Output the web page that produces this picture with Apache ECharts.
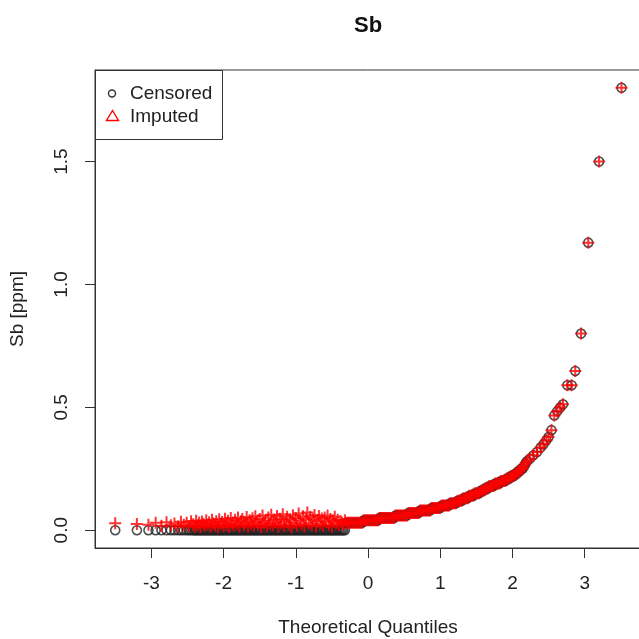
<!DOCTYPE html>
<html>
<head>
<meta charset="utf-8">
<script src="https://cdn.jsdelivr.net/npm/echarts@6/dist/echarts.min.js"></script>
<style>
  html, body { margin: 0; padding: 0; background: #fff; }
  #qq-chart { width: 639px; height: 639px; }
</style>
</head>
<body>
<div id="qq-chart"></div>
<script>
var FONT = '"Liberation Sans", Arial, sans-serif';

var xTicks = [-3, -2, -1, 0, 1, 2, 3];
var yTicks = [0, 0.5, 1, 1.5];

// censored part: theoretical quantile / imputed value (observations sit at the detection level)
var censoredLevel = 0;
var leftQuantiles = [
  -3.50, -3.20, -3.04, -2.94, -2.86, -2.79, -2.73, -2.68, -2.63, -2.59, -2.55, -2.51, -2.48, -2.45,
  -2.42, -2.40, -2.38, -2.36, -2.34, -2.32, -2.30, -2.28, -2.26, -2.24,
  -2.22, -2.20, -2.18, -2.16, -2.14, -2.12, -2.10, -2.08, -2.06, -2.04,
  -2.02, -2.00, -1.98, -1.96, -1.94, -1.92, -1.90, -1.88, -1.86, -1.84,
  -1.82, -1.80, -1.78, -1.76, -1.74, -1.72, -1.70, -1.68, -1.66, -1.64,
  -1.62, -1.60, -1.58, -1.56, -1.54, -1.52, -1.50, -1.48, -1.46, -1.44,
  -1.42, -1.40, -1.38, -1.36, -1.34, -1.32, -1.30, -1.28, -1.26, -1.24,
  -1.22, -1.20, -1.18, -1.16, -1.14, -1.12, -1.10, -1.08, -1.06, -1.04,
  -1.02, -1.00, -0.98, -0.96, -0.94, -0.92, -0.90, -0.88, -0.86, -0.84,
  -0.82, -0.80, -0.78, -0.76, -0.74, -0.72, -0.70, -0.68, -0.66, -0.64,
  -0.62, -0.60, -0.58, -0.56, -0.54, -0.52, -0.50, -0.48, -0.46, -0.44,
  -0.42, -0.40, -0.38, -0.36, -0.34, -0.32
];
var leftImputed = [
  0.028, 0.025, 0.022, 0.030, 0.018, 0.032, 0.020, 0.027, 0.015, 0.034, 0.022, 0.030, 0.017, 0.036,
  0.024, 0.014, 0.038, 0.020, 0.030, 0.012, 0.035, 0.026, 0.018, 0.040,
  0.022, 0.032, 0.015, 0.042, 0.027, 0.019, 0.036, 0.012, 0.044, 0.025,
  0.033, 0.016, 0.047, 0.021, 0.038, 0.013, 0.050, 0.028, 0.019, 0.042,
  0.024, 0.052, 0.015, 0.036, 0.045, 0.020, 0.030, 0.054, 0.014, 0.040,
  0.026, 0.049, 0.018, 0.057, 0.033, 0.022, 0.045, 0.012, 0.060, 0.029,
  0.038, 0.016, 0.052, 0.025, 0.063, 0.020, 0.042, 0.031, 0.058, 0.014,
  0.047, 0.027, 0.065, 0.018, 0.036, 0.055, 0.022, 0.044, 0.012, 0.061,
  0.030, 0.050, 0.019, 0.068, 0.039, 0.024, 0.057, 0.015, 0.046, 0.072,
  0.028, 0.054, 0.020, 0.043, 0.062, 0.016, 0.035, 0.058, 0.025, 0.048,
  0.018, 0.052, 0.032, 0.060, 0.022, 0.045, 0.014, 0.038, 0.055, 0.027,
  0.042, 0.020, 0.036, 0.030, 0.024, 0.040
];

// uncensored part: [theoretical quantile, Sb ppm]
var curvePoints = [
  [-0.30, 0.03], [-0.28, 0.03], [-0.26, 0.03], [-0.24, 0.03], [-0.22, 0.03], [-0.20, 0.03],
  [-0.18, 0.03], [-0.16, 0.03], [-0.14, 0.03], [-0.12, 0.03], [-0.10, 0.03], [-0.08, 0.03],
  [-0.06, 0.04], [-0.04, 0.04], [-0.02, 0.04], [0.00, 0.04], [0.02, 0.04], [0.04, 0.04],
  [0.06, 0.04], [0.08, 0.04], [0.10, 0.04], [0.12, 0.04], [0.14, 0.04],
  [0.16, 0.05], [0.18, 0.05], [0.20, 0.05], [0.22, 0.05], [0.24, 0.05], [0.26, 0.05],
  [0.28, 0.05], [0.30, 0.05], [0.32, 0.05], [0.34, 0.05], [0.36, 0.05],
  [0.38, 0.06], [0.40, 0.06], [0.42, 0.06], [0.44, 0.06], [0.46, 0.06], [0.48, 0.06],
  [0.50, 0.06], [0.52, 0.06], [0.54, 0.06],
  [0.56, 0.07], [0.58, 0.07], [0.60, 0.07], [0.62, 0.07], [0.64, 0.07], [0.66, 0.07],
  [0.68, 0.07], [0.70, 0.07],
  [0.72, 0.08], [0.74, 0.08], [0.76, 0.08], [0.78, 0.08], [0.80, 0.08], [0.82, 0.08],
  [0.84, 0.08], [0.86, 0.08],
  [0.88, 0.09], [0.90, 0.09], [0.92, 0.09], [0.94, 0.09], [0.96, 0.09], [0.98, 0.09], [1.00, 0.09],
  [1.02, 0.10], [1.04, 0.10], [1.06, 0.10], [1.08, 0.10], [1.10, 0.10], [1.12, 0.10],
  [1.14, 0.11], [1.16, 0.11], [1.18, 0.11], [1.20, 0.11], [1.22, 0.11],
  [1.24, 0.12], [1.26, 0.12], [1.28, 0.12], [1.30, 0.12],
  [1.32, 0.13], [1.34, 0.13], [1.36, 0.13], [1.38, 0.13],
  [1.40, 0.14], [1.42, 0.14], [1.44, 0.14], [1.46, 0.14],
  [1.48, 0.15], [1.50, 0.15], [1.52, 0.15], [1.54, 0.15],
  [1.56, 0.16], [1.58, 0.16], [1.60, 0.16],
  [1.62, 0.17], [1.64, 0.17], [1.66, 0.17],
  [1.68, 0.18], [1.70, 0.18], [1.72, 0.18], [1.74, 0.18],
  [1.76, 0.19], [1.78, 0.19], [1.80, 0.19], [1.82, 0.19],
  [1.84, 0.20], [1.86, 0.20], [1.88, 0.20], [1.90, 0.20],
  [1.92, 0.21], [1.94, 0.21], [1.96, 0.21],
  [1.98, 0.22], [2.00, 0.22], [2.02, 0.22],
  [2.04, 0.23], [2.06, 0.23],
  [2.08, 0.24], [2.10, 0.24],
  [2.12, 0.25], [2.14, 0.25],
  [2.16, 0.26], [2.18, 0.27], [2.20, 0.28]
];
var tailPoints = [
  [2.24, 0.291], [2.29, 0.305], [2.34, 0.318], [2.39, 0.336], [2.43, 0.35], [2.47, 0.366],
  [2.50, 0.379], [2.54, 0.407], [2.58, 0.467], [2.62, 0.484], [2.66, 0.499], [2.70, 0.512],
  [2.76, 0.59], [2.82, 0.59], [2.87, 0.648], [2.95, 0.80], [3.05, 1.17], [3.20, 1.50],
  [3.51, 1.80]
];

var censoredData = leftQuantiles.map(function (q) { return [q, censoredLevel]; })
  .concat(curvePoints, tailPoints);
var imputedData = leftQuantiles.map(function (q, i) { return [q, leftImputed[i]]; })
  .concat(curvePoints, tailPoints);

var chart = echarts.init(document.getElementById('qq-chart'), null, { renderer: 'canvas' });

var option = {
  animation: false,
  backgroundColor: '#fff',
  title: {
    text: 'Sb',
    left: 349,
    top: 10,
    textStyle: { fontFamily: FONT, fontSize: 22, fontWeight: 'bold', color: '#111' }
  },
  grid: {
    left: 95, top: 70, width: 546, height: 478,
    outerBoundsMode: 'none',
    containLabel: false,
    show: true, borderColor: '#333', borderWidth: 1, backgroundColor: 'transparent'
  },
  xAxis: {
    type: 'value',
    min: -3.78, max: 3.78,
    axisLine: { show: true, onZero: false, lineStyle: { color: '#333' } },
    axisTick: { show: true, length: 10, lineStyle: { color: '#333' }, customValues: xTicks },
    axisLabel: { customValues: xTicks, margin: 26, fontSize: 19, fontFamily: FONT, color: '#222' },
    splitLine: { show: false },
    name: 'Theoretical Quantiles',
    nameLocation: 'middle',
    nameGap: 70,
    nameTextStyle: { fontSize: 19, fontFamily: FONT, color: '#222' }
  },
  yAxis: {
    type: 'value',
    min: -0.0725, max: 1.8725,
    axisLine: { show: true, onZero: false, lineStyle: { color: '#333' } },
    axisTick: { show: true, length: 10, lineStyle: { color: '#333' }, customValues: yTicks },
    axisLabel: {
      customValues: yTicks, margin: 24, rotate: 90, fontSize: 19, fontFamily: FONT, color: '#222',
      formatter: function (v) { return v.toFixed(1); }
    },
    splitLine: { show: false },
    name: 'Sb [ppm]',
    nameLocation: 'middle',
    nameRotate: 90,
    nameGap: 68,
    nameTextStyle: { fontSize: 19, fontFamily: FONT, color: '#222' }
  },
  series: [
    {
      name: 'Censored',
      type: 'scatter',
      data: censoredData,
      symbol: 'circle',
      symbolSize: 9,
      itemStyle: { color: 'rgba(0,0,0,0)', borderColor: '#222', borderWidth: 1.6 },
      silent: true
    },
    {
      name: 'Imputed',
      type: 'scatter',
      data: imputedData,
      symbol: 'path://M6 0V12M0 6H12',
      symbolSize: 12,
      itemStyle: { color: 'rgba(0,0,0,0)', borderColor: '#ff0000', borderWidth: 2 },
      silent: true
    }
  ],
  graphic: [
    {
      type: 'group', z: 100,
      children: [
        { type: 'rect', shape: { x: 95.5, y: 70.5, width: 127, height: 69 },
          style: { fill: '#fff', stroke: '#333', lineWidth: 1 } },
        { type: 'circle', shape: { cx: 112, cy: 93.5, r: 3.5 },
          style: { fill: 'none', stroke: '#333', lineWidth: 1.4 } },
        { type: 'polygon', shape: { points: [[112.5, 110.5], [106.5, 120.5], [118.5, 120.5]] },
          style: { fill: 'none', stroke: '#ff0000', lineWidth: 1.4 } },
        { type: 'text', x: 130, y: 93.5,
          style: { text: 'Censored', font: '19px ' + FONT, fill: '#222', verticalAlign: 'middle' } },
        { type: 'text', x: 130, y: 116.5,
          style: { text: 'Imputed', font: '19px ' + FONT, fill: '#222', verticalAlign: 'middle' } }
      ]
    }
  ]
};

chart.setOption(option);
window.addEventListener('resize', chart.resize);
</script>
</body>
</html>
